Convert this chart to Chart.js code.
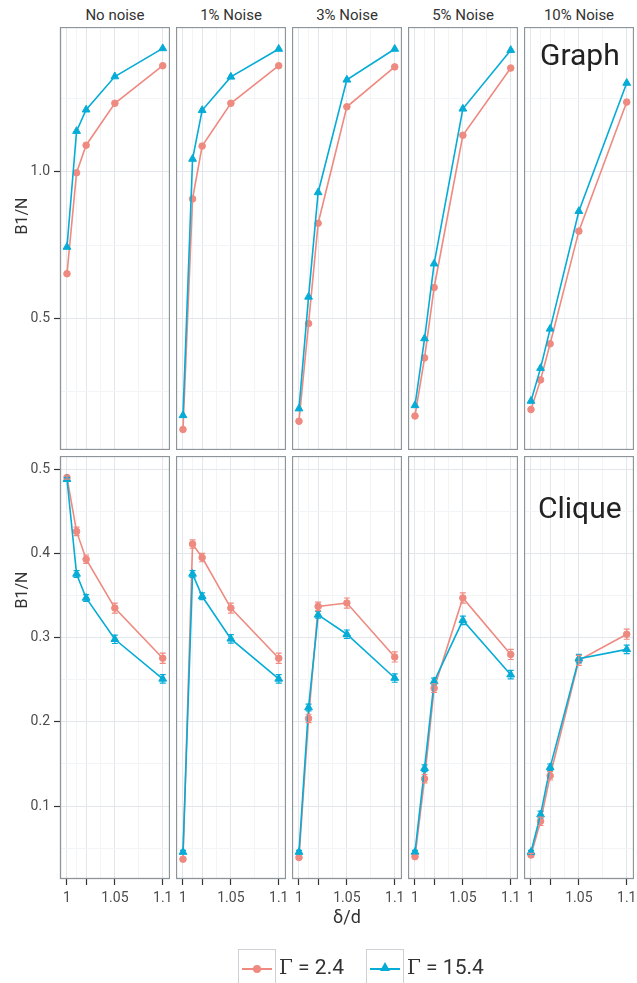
<!DOCTYPE html>
<html>
<head>
<meta charset="utf-8">
<script src="https://cdn.jsdelivr.net/npm/chart.js@4.4.1/dist/chart.umd.min.js"></script>
<style>
  body { margin: 0; background: #fff; }
  #wrap { position: relative; width: 637px; height: 983px; overflow: hidden; font-family: Roboto, sans-serif; color: #333; }
  #wrap canvas { position: absolute; }
  .strip { position: absolute; width: 110px; text-align: center; font-size: 15px; line-height: 15px; color: #333; }
  .facet { position: absolute; font-size: 30px; line-height: 30px; color: #222; }
  .ytitle { position: absolute; font-size: 16px; line-height: 16px; color: #333; transform: rotate(-90deg); transform-origin: center; width: 60px; text-align: center; }
  .xtitle { position: absolute; font-size: 18px; line-height: 18px; color: #333; width: 60px; text-align: center; }
  .key { position: absolute; top: 949px; width: 36px; height: 36px; border: 1px solid #cdd1d5; }
  .key .ln { position: absolute; left: 3px; right: 3px; top: 18px; height: 2px; }
  .key .dot { position: absolute; left: 14px; top: 15px; width: 8px; height: 8px; border-radius: 50%; }
  .key .tri { position: absolute; left: 13px; top: 12px; width: 0; height: 0; border-left: 5px solid transparent; border-right: 5px solid transparent; border-bottom: 9px solid; }
  .ktext { position: absolute; top: 957px; font-size: 21px; line-height: 21px; color: #333; }
  .ktext .g { font-family: "DejaVu Serif", serif; font-size: 20px; }
</style>
</head>
<body>
<div id="wrap"></div>
<script>
// x positions (δ/d) shared by every panel
const xValues = [1, 1.01, 1.02, 1.05, 1.1];
const noiseLabels = ["No noise", "1% Noise", "3% Noise", "5% Noise", "10% Noise"];

// Graph row, one array per noise level
const graphG24 = [
  [0.653, 0.997, 1.091, 1.234, 1.362],
  [0.122, 0.908, 1.088, 1.234, 1.362],
  [0.150, 0.483, 0.825, 1.222, 1.358],
  [0.168, 0.366, 0.606, 1.125, 1.354],
  [0.190, 0.291, 0.414, 0.798, 1.238]
];
const graphG154 = [
  [0.744, 1.139, 1.212, 1.325, 1.421],
  [0.170, 1.044, 1.210, 1.324, 1.419],
  [0.193, 0.574, 0.930, 1.314, 1.419],
  [0.204, 0.432, 0.687, 1.215, 1.415],
  [0.219, 0.331, 0.465, 0.866, 1.303]
];

// Clique row
const cliqueG24 = [
  [0.490, 0.426, 0.393, 0.335, 0.2755],
  [0.037, 0.411, 0.395, 0.335, 0.2755],
  [0.039, 0.204, 0.337, 0.341, 0.277],
  [0.040, 0.1325, 0.240, 0.347, 0.280],
  [0.042, 0.082, 0.136, 0.273, 0.304]
];
const cliqueG154 = [
  [0.488, 0.3755, 0.347, 0.298, 0.251],
  [0.0455, 0.3755, 0.349, 0.2985, 0.251],
  [0.0455, 0.217, 0.327, 0.304, 0.252],
  [0.0455, 0.145, 0.248, 0.3205, 0.256],
  [0.0455, 0.090, 0.146, 0.275, 0.286]
];
const cliqueErr24 = [0.002, 0.005, 0.005, 0.006, 0.006];
const cliqueErr154 = [0.002, 0.004, 0.004, 0.005, 0.005];

// tick / grid values
const xGrid = [1, 1.01, 1.02, 1.035, 1.05, 1.075, 1.1];
const xMajor = [1, 1.02, 1.05, 1.1];
const xLabels = { 1: "1", 1.05: "1.05", 1.1: "1.1" };
const yGridTop = [0.25, 0.5, 0.75, 1.0, 1.25];
const yMajorTop = [0.5, 1.0];
const yGridBottom = [0.05, 0.1, 0.15, 0.2, 0.25, 0.3, 0.35, 0.4, 0.45, 0.5];
const yMajorBottom = [0.1, 0.2, 0.3, 0.4, 0.5];

const RED = "#ee8a80";
const BLUE = "#06acd6";
const GRID_MAJOR = "#e3e6ea";
const GRID_MINOR = "#f2f4f6";

Chart.defaults.font.family = "Roboto, sans-serif";
Chart.defaults.font.size = 14;
Chart.defaults.color = "#4d4d4d";

const panelLefts = [60, 176, 292, 408, 524];
const panelW = 110;
const panelH = 423;
const rowTops = [27, 456];

// ggplot style panel border
const panelBorder = {
  id: "panelBorder",
  afterDraw(chart) {
    const { ctx, chartArea: a } = chart;
    ctx.save();
    ctx.strokeStyle = "#8d949a";
    ctx.lineWidth = 1.3;
    ctx.strokeRect(a.left + 0.5, a.top + 0.5, a.right - a.left - 1, a.bottom - a.top - 1);
    ctx.restore();
  }
};

// small error bars drawn from the y scale
const errorBars = {
  id: "errorBars",
  afterDatasetsDraw(chart) {
    const { ctx } = chart;
    const yScale = chart.scales.y;
    chart.data.datasets.forEach((ds, di) => {
      if (!ds.errorBars) return;
      const meta = chart.getDatasetMeta(di);
      ctx.save();
      ctx.strokeStyle = ds.borderColor;
      ctx.lineWidth = 1.2;
      meta.data.forEach((pt, i) => {
        const v = ds.data[i].y;
        const e = ds.errorBars[i];
        const y1 = yScale.getPixelForValue(v + e);
        const y2 = yScale.getPixelForValue(v - e);
        ctx.beginPath();
        ctx.moveTo(pt.x, y1); ctx.lineTo(pt.x, y2);
        ctx.moveTo(pt.x - 3, y1); ctx.lineTo(pt.x + 3, y1);
        ctx.moveTo(pt.x - 3, y2); ctx.lineTo(pt.x + 3, y2);
        ctx.stroke();
      });
      ctx.restore();
    });
  }
};

// keep the plot area exactly where the panel sits
function noPad(s) {
  s.paddingTop = 0; s.paddingBottom = 0; s.paddingLeft = 0; s.paddingRight = 0;
}

const wrap = document.getElementById("wrap");

function makePanel(row, col) {
  const padL = col === 0 ? 60 : 0;
  const padB = row === 1 ? 40 : 0;
  const canvas = document.createElement("canvas");
  canvas.width = panelW + padL;
  canvas.height = panelH + padB;
  canvas.style.left = (panelLefts[col] - padL) + "px";
  canvas.style.top = rowTops[row] + "px";
  wrap.appendChild(canvas);

  const low = row === 0 ? graphG24[col] : cliqueG24[col];
  const high = row === 0 ? graphG154[col] : cliqueG154[col];
  const yGrid = row === 0 ? yGridTop : yGridBottom;
  const yMajor = row === 0 ? yMajorTop : yMajorBottom;

  return new Chart(canvas.getContext("2d"), {
    type: "line",
    data: {
      datasets: [
        {
          label: "Γ = 15.4",
          data: xValues.map((x, i) => ({ x, y: high[i] })),
          errorBars: row === 1 ? cliqueErr154 : null,
          borderColor: BLUE,
          backgroundColor: BLUE,
          borderWidth: 1.6,
          pointStyle: "triangle",
          pointRadius: 4.5,
          pointBorderWidth: 1,
          tension: 0,
          order: 0
        },
        {
          label: "Γ = 2.4",
          data: xValues.map((x, i) => ({ x, y: low[i] })),
          errorBars: row === 1 ? cliqueErr24 : null,
          borderColor: RED,
          backgroundColor: RED,
          borderWidth: 1.6,
          pointStyle: "circle",
          pointRadius: 3.3,
          pointBorderWidth: 1,
          tension: 0,
          order: 1
        }
      ]
    },
    options: {
      responsive: false,
      animation: false,
      events: [],
      layout: { padding: 0, autoPadding: false },
      plugins: { legend: { display: false }, tooltip: { enabled: false } },
      scales: {
        x: {
          type: "linear",
          min: 0.9927,
          max: 1.1076,
          border: { display: false },
          afterBuildTicks: (s) => { s.ticks = xGrid.map((v) => ({ value: v })); },
          afterFit: (s) => { s.height = padB; noPad(s); },
          grid: {
            drawTicks: row === 1,
            tickLength: 6,
            color: (c) => (xMajor.includes(c.tick.value) ? GRID_MAJOR : GRID_MINOR),
            tickColor: (c) => (xMajor.includes(c.tick.value) ? "#333" : "rgba(0,0,0,0)"),
            lineWidth: 1,
            tickWidth: 1.2
          },
          ticks: {
            display: row === 1,
            autoSkip: false,
            maxRotation: 0,
            padding: 5,
            callback: (v) => xLabels[v] || ""
          }
        },
        y: {
          type: "linear",
          min: row === 0 ? 0.052 : 0.0135,
          max: row === 0 ? 1.494 : 0.5155,
          border: { display: false },
          afterBuildTicks: (s) => { s.ticks = yGrid.map((v) => ({ value: v })); },
          afterFit: (s) => { s.width = padL; noPad(s); },
          grid: {
            drawTicks: col === 0,
            tickLength: 6,
            color: (c) => (yMajor.includes(c.tick.value) ? GRID_MAJOR : GRID_MINOR),
            tickColor: (c) => (yMajor.includes(c.tick.value) ? "#333" : "rgba(0,0,0,0)"),
            lineWidth: 1,
            tickWidth: 1.2
          },
          ticks: {
            display: col === 0,
            autoSkip: false,
            padding: 4,
            callback: (v) => (yMajor.includes(v) ? v.toFixed(1) : "")
          }
        }
      }
    },
    plugins: [panelBorder, errorBars]
  });
}

for (let r = 0; r < 2; r++) {
  for (let c = 0; c < 5; c++) makePanel(r, c);
}

// strip labels and text annotations
function addDiv(cls, html, css) {
  const d = document.createElement("div");
  d.className = cls;
  d.innerHTML = html;
  Object.assign(d.style, css);
  wrap.appendChild(d);
  return d;
}
noiseLabels.forEach((lab, i) => addDiv("strip", lab, { left: panelLefts[i] + "px", top: "8px" }));
addDiv("facet", "Graph", { left: "540px", top: "40px" });
addDiv("facet", "Clique", { left: "538px", top: "493px" });
addDiv("ytitle", "B1/N", { left: "-8px", top: "208px" });
addDiv("ytitle", "B1/N", { left: "-8px", top: "582px" });
addDiv("xtitle", "δ/d", { left: "317px", top: "908px" });

// legend
const k1 = addDiv("key", '<div class="ln"></div><div class="dot"></div>', { left: "238px" });
k1.querySelector(".ln").style.background = RED;
k1.querySelector(".dot").style.background = RED;
const k2 = addDiv("key", '<div class="ln"></div><div class="tri"></div>', { left: "366px" });
k2.querySelector(".ln").style.background = BLUE;
k2.querySelector(".tri").style.borderBottomColor = BLUE;
addDiv("ktext", '<span class="g">Γ</span> = 2.4', { left: "279px" });
addDiv("ktext", '<span class="g">Γ</span> = 15.4', { left: "407px" });
</script>
</body>
</html>
